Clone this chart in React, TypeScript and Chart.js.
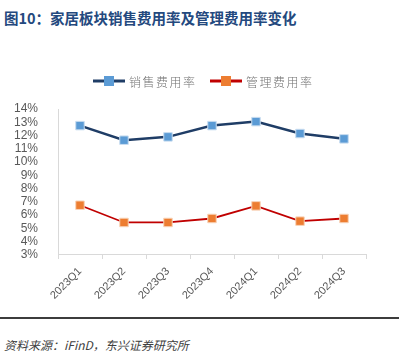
import React, { useEffect, useRef } from "react";
import { Chart, registerables } from "chart.js";

Chart.register(...registerables);

const categories = ["2023Q1", "2023Q2", "2023Q3", "2023Q4", "2024Q1", "2024Q2", "2024Q3"];
const salesRate = [12.75, 11.65, 11.9, 12.75, 13.05, 12.15, 11.75];
const adminRate = [6.75, 5.45, 5.45, 5.75, 6.7, 5.55, 5.75];
const seriesNames = ["销售费用率", "管理费用率"];
const yTicks = [3, 4, 5, 6, 7, 8, 9, 10, 11, 12, 13, 14];

const lineColors = ["#1f3d66", "#c00000"];
const markerColors = ["#5b9bd5", "#ed7d31"];

const legendPlugin = {
  id: "customLegend",
  afterDraw(chart: any) {
    const ctx = chart.ctx;
    const starts = [93, 210];
    const y = 21;
    ctx.save();
    chart.data.datasets.forEach((ds: any, i: number) => {
      const x0 = starts[i];
      ctx.strokeStyle = lineColors[i];
      ctx.lineWidth = 3;
      ctx.beginPath();
      ctx.moveTo(x0, y);
      ctx.lineTo(x0 + 32, y);
      ctx.stroke();
      ctx.fillStyle = markerColors[i];
      ctx.fillRect(x0 + 11, y - 5, 10, 10);
      ctx.fillStyle = "#737373";
      ctx.font = "300 12px 'Noto Sans CJK SC'";
      ctx.textBaseline = "middle";
      (ctx as any).letterSpacing = "1.5px";
      ctx.fillText(ds.label, x0 + 36, y + 1);
      (ctx as any).letterSpacing = "0px";
    });
    ctx.restore();
  },
};

export default function App() {
  const ref = useRef<HTMLCanvasElement>(null);
  useEffect(() => {
    if (!ref.current) return;
    const chart = new Chart(ref.current, {
      type: "line",
      data: {
        labels: categories,
        datasets: [
          {
            label: seriesNames[0],
            data: salesRate,
            borderColor: lineColors[0],
            borderWidth: 2.5,
            pointStyle: "rect",
            pointRadius: 6,
            pointBackgroundColor: markerColors[0],
            pointBorderColor: "#c9ddf0",
            pointBorderWidth: 1,
            tension: 0,
          },
          {
            label: seriesNames[1],
            data: adminRate,
            borderColor: lineColors[1],
            borderWidth: 1.8,
            pointStyle: "rect",
            pointRadius: 6,
            pointBackgroundColor: markerColors[1],
            pointBorderColor: "#f8d3b8",
            pointBorderWidth: 1,
            tension: 0,
          },
        ],
      },
      options: {
        animation: false,
        responsive: false,
        maintainAspectRatio: false,
        layout: { padding: { top: 49, right: 33, left: 0, bottom: 2 } },
        plugins: { legend: { display: false }, tooltip: { enabled: false } },
        scales: {
          x: {
            offset: true,
            grid: {
              offset: true,
              drawOnChartArea: false,
              drawTicks: true,
              tickLength: 4,
              color: "#d9d9d9",
            },
            border: { display: true, color: "#d9d9d9" },
            ticks: {
              color: "#595959",
              font: { family: "'Liberation Sans', Arial", size: 11 },
              minRotation: 45,
              maxRotation: 45,
              autoSkip: false,
              padding: 6,
            },
          },
          y: {
            min: 3,
            max: 14,
            afterBuildTicks(scale: any) {
              scale.ticks = yTicks.map((v) => ({ value: v }));
            },
            afterFit(scale: any) {
              scale.width = 58;
            },
            grid: { display: false },
            border: { display: true, color: "#d9d9d9" },
            ticks: {
              color: "#595959",
              font: { family: "'Liberation Sans', Arial", size: 12 },
              padding: 12,
              autoSkip: false,
              callback: (v: any) => v + "%",
            },
          },
        },
      },
      plugins: [legendPlugin],
    });
    return () => chart.destroy();
  }, []);

  return (
    <div style={{ position: "absolute", left: 0, top: 0, width: 399, height: 352, background: "#fff", overflow: "hidden" }}>
      <div
        style={{
          position: "absolute",
          left: 4,
          top: 9,
          fontFamily: "'Noto Sans CJK SC', sans-serif",
          fontWeight: 700,
          fontSize: 14.5,
          color: "#24497e",
          lineHeight: "18px",
          whiteSpace: "nowrap",
        }}
      >
        图10：家居板块销售费用率及管理费用率变化
      </div>
      <div style={{ position: "absolute", left: 0, top: 60, width: 399, height: 250 }}>
        <canvas ref={ref} width={399} height={250} style={{ width: 399, height: 250 }} />
      </div>
      <div style={{ position: "absolute", left: 0, top: 317, width: 399, height: 2, background: "#3c3c3c" }} />
      <div
        style={{
          position: "absolute",
          left: 4,
          top: 337,
          fontFamily: "'Noto Sans CJK SC', sans-serif",
          fontStyle: "italic",
          fontSize: 12,
          color: "#404040",
          whiteSpace: "nowrap",
          lineHeight: "16px",
        }}
      >
        资料来源：iFinD，东兴证券研究所
      </div>
    </div>
  );
}
